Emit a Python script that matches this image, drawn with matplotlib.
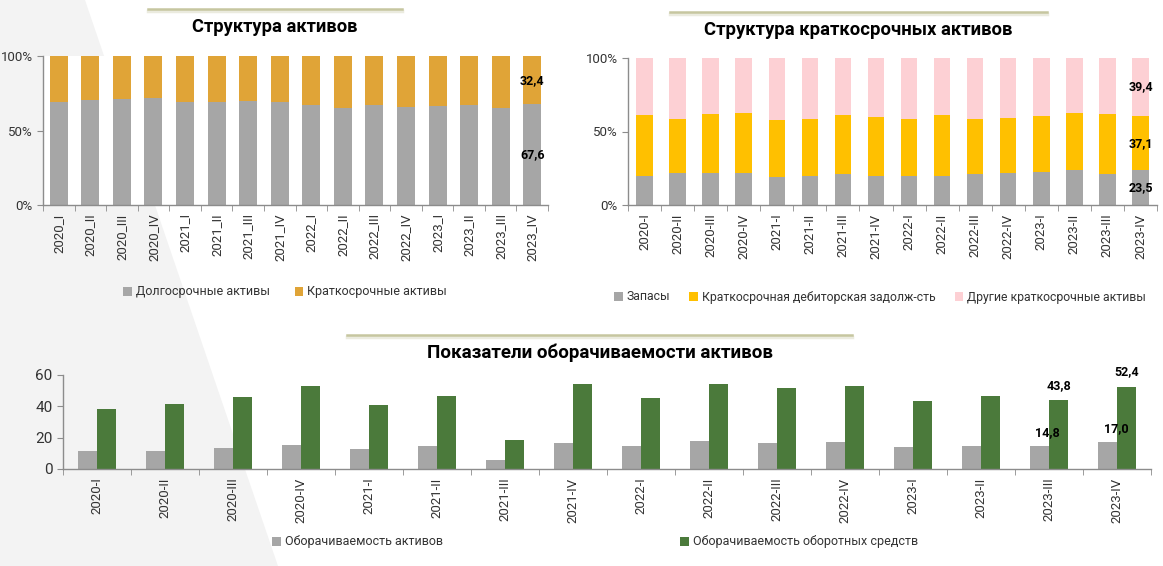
import matplotlib
matplotlib.use('Agg')
import matplotlib.pyplot as plt
import numpy as np
from matplotlib.patches import Polygon
from matplotlib.lines import Line2D

plt.rcParams['font.family'] = ['Roboto', 'DejaVu Sans']

W, H = 1163, 566

# ---- data ----
quarters_a = ['2020_I', '2020_II', '2020_III', '2020_IV', '2021_I', '2021_II', '2021_III', '2021_IV',
              '2022_I', '2022_II', '2022_III', '2022_IV', '2023_I', '2023_II', '2023_III', '2023_IV']
quarters = ['2020-I', '2020-II', '2020-III', '2020-IV', '2021-I', '2021-II', '2021-III', '2021-IV',
            '2022-I', '2022-II', '2022-III', '2022-IV', '2023-I', '2023-II', '2023-III', '2023-IV']

long_term = [69.2, 70.8, 71.4, 71.9, 69.2, 68.8, 69.6, 68.8, 67.4, 65.4, 67.0, 65.8, 66.3, 67.4, 65.4, 67.6]
short_term = [30.8, 29.2, 28.6, 28.1, 30.8, 31.2, 30.4, 31.2, 32.6, 34.6, 33.0, 34.2, 33.7, 32.6, 34.6, 32.4]

inventory = [19.5, 21.6, 21.8, 21.8, 18.9, 20.0, 20.9, 19.5, 20.0, 19.5, 20.9, 21.6, 22.3, 23.6, 21.4, 23.5]
receivables = [41.4, 37.0, 39.8, 40.7, 38.6, 38.6, 40.0, 40.7, 38.2, 41.4, 37.7, 37.9, 38.2, 38.9, 40.6, 37.1]
other_short = [39.1, 41.4, 38.4, 37.5, 42.5, 41.4, 39.1, 39.8, 41.8, 39.1, 41.4, 40.5, 39.5, 37.5, 38.0, 39.4]

asset_turn = [11.6, 11.8, 13.1, 15.1, 12.7, 14.4, 5.6, 16.6, 14.4, 18.1, 16.6, 17.2, 14.0, 14.8, 14.8, 17.0]
current_turn = [38.5, 41.3, 46.0, 53.1, 41.1, 46.9, 18.5, 54.0, 45.2, 54.0, 51.6, 52.7, 43.4, 46.5, 43.8, 52.4]

GREY = '#a6a6a6'
GOLD = '#e0a437'
YELLOW = '#ffc000'
PINK = '#fdd0d4'
GREEN = '#4b7a3b'
AXC = '#8c8c8c'
TXT = '#333333'


def box(l, t, r, b):
    return [l / W, 1 - b / H, (r - l) / W, (b - t) / H]


def style(ax):
    for s in ['top', 'right']:
        ax.spines[s].set_visible(False)
    for s in ['left', 'bottom']:
        ax.spines[s].set_color(AXC)
        ax.spines[s].set_linewidth(1)
    ax.tick_params(axis='y', colors=AXC, labelcolor=TXT, length=4, labelsize=9.5)
    ax.tick_params(axis='x', which='major', length=0, labelcolor=TXT, labelsize=9.5, pad=6)
    ax.tick_params(axis='x', which='minor', colors=AXC, length=4)


fig = plt.figure(figsize=(W / 100, H / 100), dpi=100)
fig.patch.set_facecolor('white')

# light grey slanted background
fig.patches.append(Polygon([(0, 1), (85 / W, 1), (278 / W, 0), (0, 0)], closed=True,
                           transform=fig.transFigure, facecolor='#f3f3f3', edgecolor='none', zorder=-5))


def title_line(x0, x1, y):
    fig.add_artist(Line2D([x0 / W, x1 / W], [1 - (y + 2) / H] * 2, color='#ebebdf', lw=2.5,
                          transform=fig.transFigure))
    fig.add_artist(Line2D([x0 / W, x1 / W], [1 - y / H] * 2, color='#c6c6a0', lw=1.8,
                          transform=fig.transFigure))


x = np.arange(16)

# ---- top-left: structure of assets ----
ax1 = fig.add_axes(box(43, 56, 548, 205))
ax1.set_facecolor('white')
ax1.bar(x, long_term, width=0.57, color=GREY, label='Долгосрочные активы')
ax1.bar(x, short_term, width=0.57, bottom=long_term, color=GOLD, label='Краткосрочные активы')
ax1.set_xlim(-0.5, 15.5)
ax1.set_ylim(0, 100)
ax1.set_yticks([0, 50, 100])
ax1.set_yticklabels(['0%', '50%', '100%'])
ax1.set_xticks(x)
ax1.set_xticklabels(quarters_a, rotation=90)
ax1.set_xticks(np.arange(-0.5, 16, 1), minor=True)
style(ax1)
ax1.text(15, long_term[-1] / 2, '67,6', ha='center', va='center', fontsize=9, fontweight='bold')
ax1.text(15, long_term[-1] + short_term[-1] / 2, '32,4', ha='center', va='center', fontsize=9,
         fontweight='bold')
ax1.legend(loc='center', bbox_to_anchor=(285 / W, 1 - 292 / H), bbox_transform=fig.transFigure,
           ncol=2, frameon=False, fontsize=9, handlelength=0.7, handleheight=0.7, handletextpad=0.3,
           columnspacing=2.0, labelcolor=TXT)
fig.text(275 / W, 1 - 27 / H, 'Структура активов', ha='center', va='center', fontsize=13.2,
         fontweight='bold')
title_line(148, 402, 9)

# ---- top-right: structure of short-term assets ----
ax2 = fig.add_axes(box(628, 58, 1157, 205))
ax2.set_facecolor('white')
bottom2 = np.array(inventory) + np.array(receivables)
ax2.bar(x, inventory, width=0.5, color=GREY, label='Запасы')
ax2.bar(x, receivables, width=0.5, bottom=inventory, color=YELLOW,
        label='Краткосрочная дебиторская задолж-сть')
ax2.bar(x, other_short, width=0.5, bottom=bottom2, color=PINK, label='Другие краткосрочные активы')
ax2.set_xlim(-0.5, 15.5)
ax2.set_ylim(0, 100)
ax2.set_yticks([0, 50, 100])
ax2.set_yticklabels(['0%', '50%', '100%'])
ax2.set_xticks(x)
ax2.set_xticklabels(quarters, rotation=90)
ax2.set_xticks(np.arange(-0.5, 16, 1), minor=True)
style(ax2)
ax2.text(15, inventory[-1] / 2, '23,5', ha='center', va='center', fontsize=9, fontweight='bold')
ax2.text(15, inventory[-1] + receivables[-1] / 2, '37,1', ha='center', va='center', fontsize=9,
         fontweight='bold')
ax2.text(15, bottom2[-1] + other_short[-1] / 2, '39,4', ha='center', va='center', fontsize=9,
         fontweight='bold')
ax2.legend(loc='center', bbox_to_anchor=(880 / W, 1 - 297 / H), bbox_transform=fig.transFigure,
           ncol=3, frameon=False, fontsize=8.8, handlelength=0.7, handleheight=0.7, handletextpad=0.3,
           columnspacing=1.6, labelcolor=TXT)
fig.text(858 / W, 1 - 30 / H, 'Структура краткосрочных активов', ha='center', va='center',
         fontsize=13.3, fontweight='bold')
title_line(670, 1047, 12)

# ---- bottom: turnover ----
ax3 = fig.add_axes(box(63, 375, 1151, 469))
ax3.set_facecolor('none')
bw = 0.28
ax3.bar(x - bw / 2, asset_turn, width=bw, color=GREY, label='Оборачиваемость активов')
ax3.bar(x + bw / 2, current_turn, width=bw, color=GREEN, label='Оборачиваемость оборотных средств')
ax3.set_xlim(-0.5, 15.5)
ax3.set_ylim(0, 60)
ax3.set_yticks([0, 20, 40, 60])
ax3.set_xticks(x)
ax3.set_xticklabels(quarters, rotation=90)
ax3.set_xticks(np.arange(-0.5, 16, 1), minor=True)
style(ax3)
ax3.tick_params(axis='y', labelsize=11)
for i in [14, 15]:
    ax3.annotate(f'{asset_turn[i]:.1f}'.replace('.', ','), (x[i] - bw / 2, asset_turn[i]),
                 xytext=(6, 5), textcoords='offset points', ha='center', va='bottom',
                 fontsize=9, fontweight='bold')
    ax3.annotate(f'{current_turn[i]:.1f}'.replace('.', ','), (x[i] + bw / 2, current_turn[i]),
                 xytext=(0, 6), textcoords='offset points', ha='center', va='bottom',
                 fontsize=9, fontweight='bold')
ax3.legend(loc='center', bbox_to_anchor=(595 / W, 1 - 542 / H), bbox_transform=fig.transFigure,
           ncol=2, frameon=False, fontsize=9, handlelength=0.7, handleheight=0.7, handletextpad=0.3,
           columnspacing=19, labelcolor=TXT)
fig.text(600 / W, 1 - 353 / H, 'Показатели оборачиваемости активов', ha='center', va='center',
         fontsize=13.5, fontweight='bold')
title_line(347, 852, 335)

fig.savefig('out.png', dpi=100)
